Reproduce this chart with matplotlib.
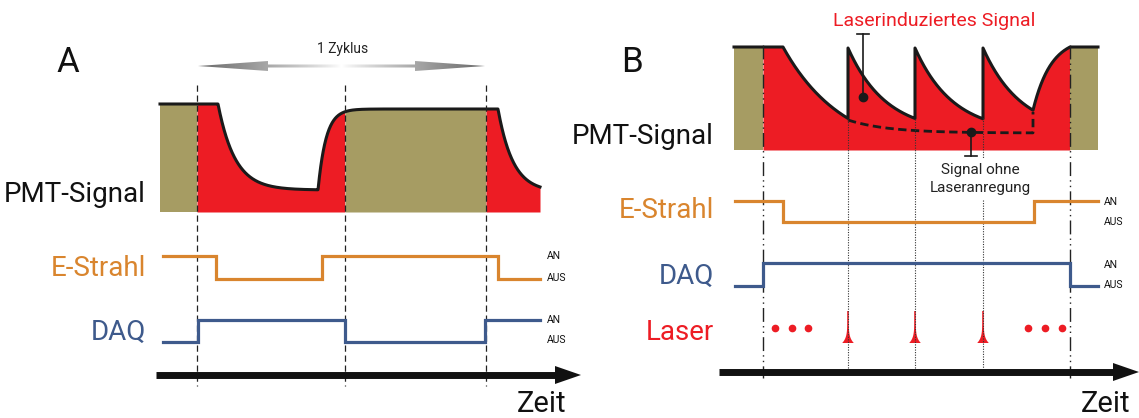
import numpy as np
import matplotlib.pyplot as plt
from matplotlib.patches import Polygon
from matplotlib.colors import LinearSegmentedColormap

plt.rcParams['font.family'] = ['Roboto', 'DejaVu Sans']

RED = '#ED1C24'
OLIVE = '#A69C63'
ORANGE = '#D9852E'
BLUE = '#3E5A8C'

# ---- schematic "data" (time positions in px of the drawing) ----
# panel A
a_cycle = [197, 345, 486]                  # dashed cycle borders
a_estrahl_t = [163, 216, 322, 498, 540]
a_estrahl_s = [1, 0, 1, 0]
a_daq_t = [163, 198, 345, 485, 540]
a_daq_s = [0, 1, 0, 1]
# PMT A: decay / rise segments (start, end, y0, amplitude, tau)
a_pmt_flat = 104
a_pmt_seg = [(218, 318, 104, 86, 17), (318, 498, 190, -81, 8), (498, 540, 109, 83, 15)]
a_regions = [(160, 197, OLIVE), (197, 345, RED), (345, 486, OLIVE), (486, 540, RED)]

# panel B
b_edges = [763, 1070]                      # dash-dot borders
b_laser = [848, 915, 983]                  # laser pulses
b_estrahl_t = [735, 783, 1034, 1098]
b_estrahl_s = [1, 0, 1]
b_daq_t = [735, 763, 1070, 1098]
b_daq_s = [0, 1, 0]
b_dots_left = [775, 792, 808]
b_dots_right = [1028, 1045, 1062]
b_regions = [(734, 763, OLIVE), (763, 1070, RED), (1070, 1098, OLIVE)]

fig = plt.figure(figsize=(11.39, 4.18), dpi=100)
ax = fig.add_axes([0, 0, 1, 1])
ax.set_xlim(0, 1139)
ax.set_ylim(418, 0)
ax.axis('off')


def step(t, s, hi, lo, color):
    ys = [hi if v else lo for v in s]
    ax.step(t, ys + [ys[-1]], where='post', color=color, lw=2.3, solid_joinstyle='miter')


def fill_regions(x, y, regions, bottom):
    for a, b, c in regions:
        m = (x >= a) & (x <= b)
        ax.fill_between(x[m], y[m], bottom, color=c, lw=0)


# ---------------- panel A ----------------
xa = np.linspace(160, 540, 1500)
ya = np.full_like(xa, float(a_pmt_flat))
for x0, x1, y0, amp, tau in a_pmt_seg:
    m = (xa >= x0) & (xa <= x1)
    ya[m] = y0 + amp * (1 - np.exp(-(xa[m] - x0) / tau))
fill_regions(xa, ya, a_regions, 212)
ax.plot(xa, ya, color='#1a1a1a', lw=2.2)

for x in a_cycle:
    ax.plot([x, x], [85, 386], color='#222222', lw=0.9, dashes=(5, 3))

step(a_estrahl_t, a_estrahl_s, 256, 279, ORANGE)
step(a_daq_t, a_daq_s, 320, 342, BLUE)

# gradient arrow "1 Zyklus"
verts = [(198, 66), (268, 61), (268, 64.5), (415, 64.5), (415, 61), (485, 66),
         (415, 71), (415, 67.5), (268, 67.5), (268, 71)]
arr = Polygon(verts, closed=True, fc='none', ec='none')
ax.add_patch(arr)
cm = LinearSegmentedColormap.from_list('g', ['#ffffff', '#6a6a6a'])
img = ax.imshow(np.abs(np.linspace(-1, 1, 256))[None, :] ** 0.8, extent=[198, 485, 72, 60],
                cmap=cm, aspect='auto', zorder=3)
img.set_clip_path(arr)
ax.text(343, 49, '1 Zyklus', fontsize=10, ha='center', va='center', color='#222222')

ax.text(68, 62, 'A', fontsize=25, ha='center', va='center', color='#111111')
ax.text(146, 194, 'PMT-Signal', fontsize=20, ha='right', va='center', color='#111111')
ax.text(146, 268, 'E-Strahl', fontsize=20, ha='right', va='center', color=ORANGE)
ax.text(146, 332, 'DAQ', fontsize=20, ha='right', va='center', color=BLUE)
for y, t in [(256, 'AN'), (278, 'AUS'), (320, 'AN'), (340, 'AUS')]:
    ax.text(547, y, t, fontsize=7.5, ha='left', va='center', color='#111111')

ax.plot([156, 557], [375, 375], color='#111111', lw=5, solid_capstyle='butt')
ax.add_patch(Polygon([(555, 366), (581, 375), (555, 384)], closed=True, fc='#111111', ec='none'))
ax.text(542, 404, 'Zeit', fontsize=21, ha='center', va='center', color='#111111')

# ---------------- panel B ----------------
segs_x, segs_y = [], []
x = np.linspace(734, 783, 50); segs_x.append(x); segs_y.append(np.full_like(x, 47.0))
x = np.linspace(783, 848, 200); segs_x.append(x); segs_y.append(47 + 108 * (1 - np.exp(-(x - 783) / 60)))
for p0, p1 in zip(b_laser, b_laser[1:] + [1033]):
    x = np.linspace(p0, p1, 200)
    segs_x.append(x); segs_y.append(48 + 85 * (1 - np.exp(-(x - p0) / 38)))
yend = segs_y[-1][-1]
x = np.linspace(1033, b_edges[1], 150)
segs_x.append(x); segs_y.append(yend - (yend - 47) * (1 - np.exp(-(x - 1033) / 18)) / (1 - np.exp(-37 / 18)))
x = np.linspace(b_edges[1], 1098, 50); segs_x.append(x); segs_y.append(np.full_like(x, 47.0))
xb = np.concatenate(segs_x)
yb = np.concatenate(segs_y)
fill_regions(xb, yb, b_regions, 150)
ax.plot(xb, yb, color='#1a1a1a', lw=2.2)

# signal without laser (dashed)
xd = np.linspace(848, 1033, 200)
yd = 120 + 13 * (1 - np.exp(-(xd - 848) / 40))
ax.plot(np.append(xd, 1033), np.append(yd, 112), color='#1a1a1a', lw=2.0, dashes=(3, 1.6))

for x in b_edges:
    ax.plot([x, x], [45, 378], color='#222222', lw=1.0, dashes=(10, 3, 1, 3, 1, 3))
for x in b_laser[:2]:
    ax.plot([x, x], [119, 374], color='#333333', lw=0.8, dashes=(1, 1.3))
ax.plot([b_laser[2], b_laser[2]], [118, 158], color='#333333', lw=0.8, dashes=(1, 1.3))
ax.plot([b_laser[2], b_laser[2]], [200, 374], color='#333333', lw=0.8, dashes=(1, 1.3))

# pointers
ax.plot([863, 863], [34, 97], color='#1a1a1a', lw=1.2)
ax.plot([857, 869], [34, 34], color='#1a1a1a', lw=1.2)
ax.plot([863], [97], 'o', color='#1a1a1a', ms=6)
ax.plot([971, 971], [132, 156], color='#1a1a1a', lw=1.2)
ax.plot([965, 977], [156, 156], color='#1a1a1a', lw=1.2)
ax.plot([971], [132], 'o', color='#1a1a1a', ms=6)
ax.text(934, 21, 'Laserinduziertes Signal', fontsize=14, ha='center', va='center', color=RED)
ax.text(980, 170, 'Signal ohne', fontsize=11, ha='center', va='center', color='#222222')
ax.text(980, 188, 'Laseranregung', fontsize=11, ha='center', va='center', color='#222222')

step(b_estrahl_t, b_estrahl_s, 201, 222, ORANGE)
step(b_daq_t, b_daq_s, 263, 286, BLUE)

# laser pulses and dots
t = np.linspace(0, 1, 60)
hw = 0.8 + 5 * t ** 6
for c in b_laser:
    px = np.concatenate([c - hw, (c + hw)[::-1]])
    py = np.concatenate([311 + 32 * t, (311 + 32 * t)[::-1]])
    ax.add_patch(Polygon(np.column_stack([px, py]), closed=True, fc=RED, ec='none'))
ax.plot(b_dots_left + b_dots_right, [328] * 6, 'o', color=RED, ms=4.5, ls='none')

ax.text(632, 62, 'B', fontsize=25, ha='center', va='center', color='#111111')
ax.text(714, 136, 'PMT-Signal', fontsize=20, ha='right', va='center', color='#111111')
ax.text(714, 211, 'E-Strahl', fontsize=20, ha='right', va='center', color=ORANGE)
ax.text(714, 276, 'DAQ', fontsize=20, ha='right', va='center', color=BLUE)
ax.text(714, 332, 'Laser', fontsize=20, ha='right', va='center', color=RED)
for y, t_ in [(202, 'AN'), (222, 'AUS'), (265, 'AN'), (285, 'AUS')]:
    ax.text(1104, y, t_, fontsize=7.5, ha='left', va='center', color='#111111')

ax.plot([719, 1115], [372, 372], color='#111111', lw=5, solid_capstyle='butt')
ax.add_patch(Polygon([(1113, 363), (1139, 372), (1113, 381)], closed=True, fc='#111111', ec='none'))
ax.text(1106, 404, 'Zeit', fontsize=21, ha='center', va='center', color='#111111')

fig.savefig('out.png', dpi=100)
